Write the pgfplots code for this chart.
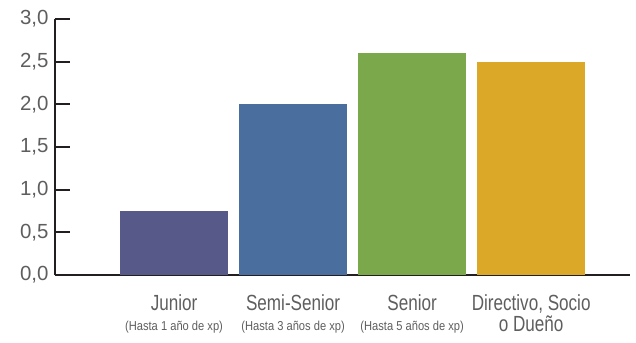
\documentclass[border=0pt]{standalone}
\usepackage{pgfplots}
\pgfplotsset{compat=1.18}
\usepackage{fontspec}
\setmainfont{Liberation Sans}
\newfontfamily\cond{Liberation Sans}[FakeStretch=0.78]
\newfontfamily\condb{Liberation Sans}[FakeStretch=0.86]
\definecolor{cA}{HTML}{575A89}
\definecolor{cB}{HTML}{4A6E9D}
\definecolor{cC}{HTML}{7BA84A}
\definecolor{cD}{HTML}{DBA828}
\definecolor{axiscol}{HTML}{231F20}
\definecolor{labelcol}{HTML}{5E5E5E}
\begin{document}
\begin{tikzpicture}
\path[use as bounding box] (-55bp,-68bp) rectangle (581bp,275bp);
\begin{axis}[
  scale only axis, width=575bp, height=256bp,
  xmin=-1, xmax=3.83, ymin=0, ymax=3,
  axis lines=left,
  axis line style={-, line width=2.2bp, color=axiscol},
  ytick={0,0.5,1,1.5,2,2.5,3},
  tick align=inside, major tick length=15bp,
  ytick style={line width=2.2bp, color=axiscol},
  xtick={0,1,2,3}, xtick style={draw=none},
  xticklabels={
    {Junior\\[-1bp]{\condb\fontsize{13}{13}\selectfont (Hasta 1 año de xp)}},
    {Semi-Senior\\[-1bp]{\condb\fontsize{13}{13}\selectfont (Hasta 3 años de xp)}},
    {Senior\\[-1bp]{\condb\fontsize{13}{13}\selectfont (Hasta 5 años de xp)}},
    {Directivo, Socio\\o Dueño}},
  x tick label style={font=\cond\fontsize{22}{21}\selectfont, align=center, text=labelcol, anchor=north, yshift=-16bp},
  y tick label style={font=\fontsize{20.5}{20}\selectfont, text=labelcol, xshift=-3bp},
  yticklabel style={/pgf/number format/.cd, fixed, fixed zerofill, precision=1, use comma, assume math mode=true},
  clip=false,
]
\addplot[ybar, bar width=0.908, bar shift=0pt, fill=cA, draw=none] coordinates {(0,0.75)};
\addplot[ybar, bar width=0.908, bar shift=0pt, fill=cB, draw=none] coordinates {(1,2.0)};
\addplot[ybar, bar width=0.908, bar shift=0pt, fill=cC, draw=none] coordinates {(2,2.6)};
\addplot[ybar, bar width=0.908, bar shift=0pt, fill=cD, draw=none] coordinates {(3,2.5)};
\end{axis}
\end{tikzpicture}
\end{document}
